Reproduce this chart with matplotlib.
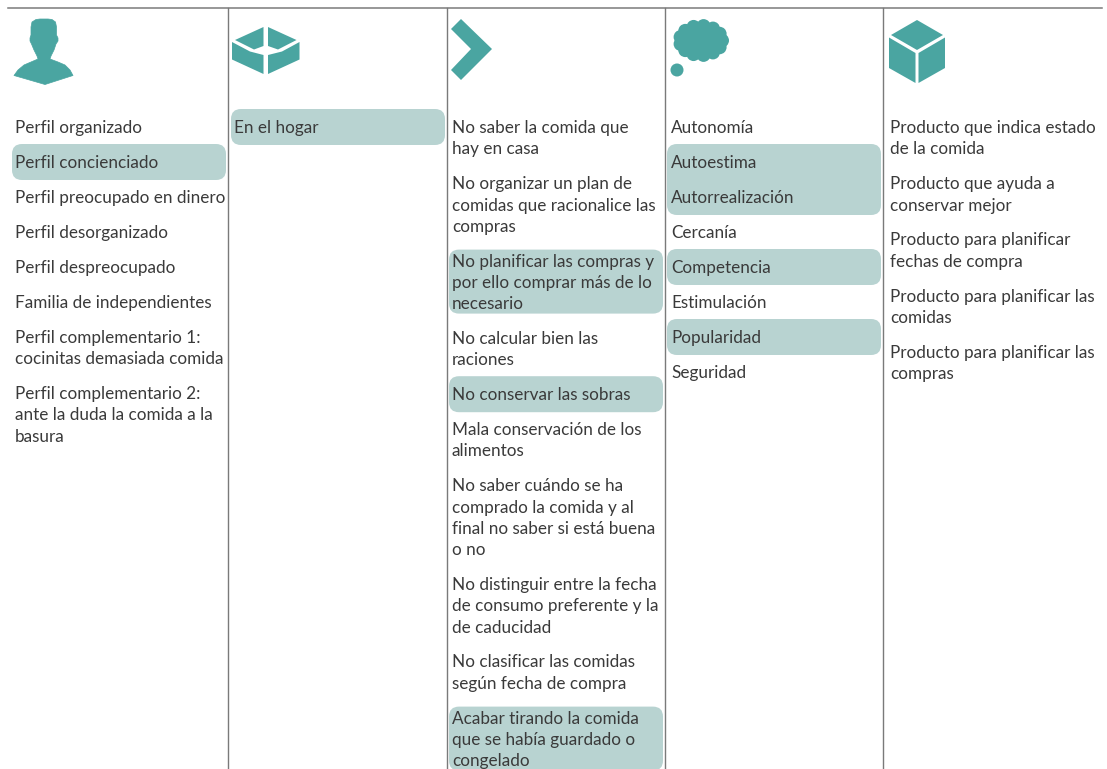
import numpy as np
import matplotlib
matplotlib.use('Agg')
import matplotlib.pyplot as plt
from matplotlib.patches import Polygon, Circle, FancyBboxPatch

# column contents
col1 = ['Perfil organizado', 'Perfil concienciado', 'Perfil preocupado en dinero',
        'Perfil desorganizado', 'Perfil despreocupado', 'Familia de independientes',
        'Perfil complementario 1:\ncocinitas demasiada comida',
        'Perfil complementario 2:\nante la duda la comida a la\nbasura']
col2 = ['En el hogar']
col3 = ['No saber la comida que\nhay en casa',
        'No organizar un plan de\ncomidas que racionalice las\ncompras',
        'No planificar las compras y\npor ello comprar más de lo\nnecesario',
        'No calcular bien las\nraciones',
        'No conservar las sobras',
        'Mala conservación de los\nalimentos',
        'No saber cuándo se ha\ncomprado la comida y al\nfinal no saber si está buena\no no',
        'No distinguir entre la fecha\nde consumo preferente y la\nde caducidad',
        'No clasificar las comidas\nsegún fecha de compra',
        'Acabar tirando la comida\nque se había guardado o\ncongelado']
col4 = ['Autonomía', 'Autoestima', 'Autorrealización', 'Cercanía', 'Competencia',
        'Estimulación', 'Popularidad', 'Seguridad']
col5 = ['Producto que indica estado\nde la comida',
        'Producto que ayuda a\nconservar mejor',
        'Producto para planificar\nfechas de compra',
        'Producto para planificar las\ncomidas',
        'Producto para planificar las\ncompras']

# which items are highlighted
marked1 = ['Perfil concienciado']
marked2 = ['En el hogar']
marked3 = [col3[2], col3[4], col3[9]]
marked4 = ['Autoestima', 'Autorrealización', 'Competencia', 'Popularidad']
marked5 = []

TEAL = '#4aa5a1'
BOX = '#b8d3d1'
TXT = '#3a3a3a'
LINE = '#7a7a7a'
FS = 12.3

plt.rcParams['font.family'] = ['Lato', 'DejaVu Sans']

fig = plt.figure(figsize=(11.07, 7.69), dpi=100)
ax = fig.add_axes([0, 0, 1, 1])
ax.set_xlim(0, 1107)
ax.set_ylim(769, 0)
ax.axis('off')

# rules
ax.plot([8, 1102], [7.5, 7.5], color=LINE, lw=1.1)
for x in [228, 447, 665, 883]:
    ax.plot([x, x], [8, 769], color=LINE, lw=1.0)


def draw_column(items, marked, text_x, box_x, box_w, first_y=127):
    y = first_y
    prev_box = None
    for item in items:
        n = item.count('\n') + 1
        if item in marked:
            pad = 18 if n == 1 else 11
            top = y - pad
            bottom = y + 21 * (n - 1) + pad
            # consecutive highlighted items share one box
            if prev_box is not None:
                prev_box.remove()
                top = prev_top
            b = FancyBboxPatch((box_x + 8, top + 8), box_w - 16, bottom - top - 16,
                               boxstyle='round,pad=8,rounding_size=10',
                               fc=BOX, ec='none', zorder=1)
            ax.add_patch(b)
            prev_box, prev_top = b, top
        else:
            prev_box = None
        for i, line in enumerate(item.split('\n')):
            ax.text(text_x, y + 1 + 21.3 * i, line, fontsize=FS, color=TXT,
                    va='center', ha='left', zorder=2)
        y += 35 + 21.2 * (n - 1)


draw_column(col1, marked1, 15, 12, 214)
draw_column(col2, marked2, 234, 231, 214)
draw_column(col3, marked3, 452, 449, 214)
draw_column(col4, marked4, 671, 667, 214)
draw_column(col5, marked5, 890, 886, 214)

# person icon
verts = [(31, 27), (32, 22), (36, 19.5), (40, 19), (48, 19), (52, 19.5), (55.5, 22), (56.5, 27),
         (56.5, 35), (58, 38), (58, 41), (56, 44), (54, 50), (51, 56), (50, 59),
         (58, 62), (65, 65), (70, 70), (73, 75.5),
         (45, 84.5), (14, 75.5), (18, 70), (24, 65), (31, 62), (38, 59), (37, 56),
         (34, 50), (31.5, 44), (30, 41), (30, 38), (31, 35)]
ax.add_patch(Polygon(verts, closed=True, fc=TEAL, ec=TEAL, lw=0.5, joinstyle='round'))

# open box icon
for pts in [[(235, 40), (263.5, 27), (263.5, 46), (254, 49.5)],
            [(268, 27), (296.5, 40), (278, 49.5), (268, 46)],
            [(232, 42), (250, 51.5), (263.5, 55), (263.5, 74), (232, 59.5)],
            [(268, 55), (282, 51.5), (299.5, 42), (299.5, 59.5), (268, 74)]]:
    ax.add_patch(Polygon(pts, closed=True, fc=TEAL, ec='none'))

# chevron icon
ax.add_patch(Polygon([(461, 19), (492, 49), (461, 80), (451, 70), (471, 49), (451, 29)],
                     closed=True, fc=TEAL, ec='none'))

# thought cloud icon
for a in np.arange(0, 360, 27.7):
    cx = 701 + 21 * np.cos(np.radians(a))
    cy = 40.5 + 14.5 * np.sin(np.radians(a))
    ax.add_patch(Circle((cx, cy), 7, fc=TEAL, ec='none'))
ax.add_patch(Circle((701, 40.5), 18, fc=TEAL, ec='none'))
ax.add_patch(Circle((677, 70), 6.5, fc=TEAL, ec='none'))

# cube icon
for pts in [[(917, 20), (943, 35), (917, 50), (891, 35)],
            [(889, 37.5), (915.5, 53), (915.5, 83), (889, 68)],
            [(918.5, 53), (945, 37.5), (945, 68), (918.5, 83)]]:
    ax.add_patch(Polygon(pts, closed=True, fc=TEAL, ec='none'))

fig.savefig('out.png', dpi=100)
